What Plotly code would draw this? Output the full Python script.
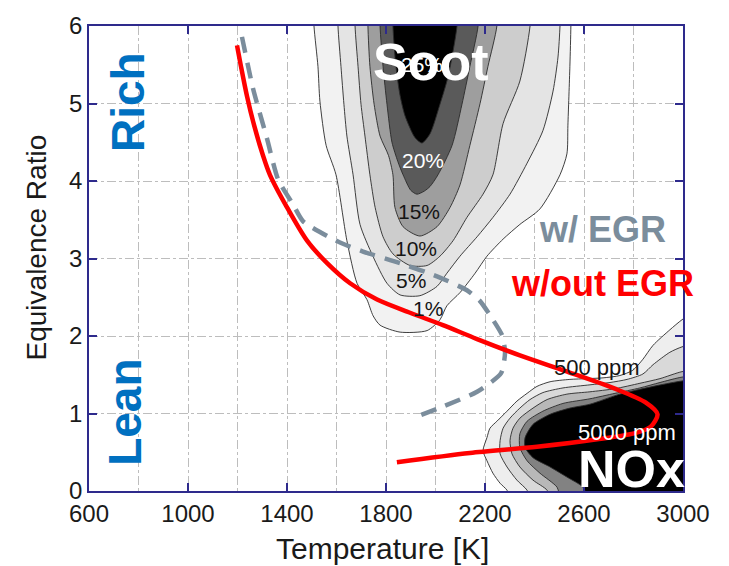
import plotly.graph_objects as go

# ---------------------------------------------------------------------------
# Phi-T map: soot and NOx formation islands with two combustion paths
# Temperatures in K, equivalence ratio dimensionless
# ---------------------------------------------------------------------------

# Soot-yield bands (outer to inner), closed above the plotted range
SOOT_01_T = [1505, 1509, 1525, 1533, 1558, 1598, 1642, 1683, 1723, 1748, 1776, 1857,
             1966, 2018, 2046, 2099, 2160, 2208, 2273, 2341, 2422, 2503, 2531, 2535,
             2543, 2547, 2548]
SOOT_01_PHI = [6.4, 6.0, 5.48, 5.03, 4.46, 4.08, 3.23, 2.68, 2.47, 2.26, 2.14, 2.05,
               2.07, 2.21, 2.39, 2.56, 2.81, 3.03, 3.25, 3.44, 3.64, 4.08, 4.35, 4.72,
               5.48, 6.0, 6.4]

SOOT_05_T = [1606, 1606, 1618, 1630, 1642, 1667, 1695, 1747, 1804, 1857, 1937, 2006,
             2046, 2099, 2168, 2232, 2301, 2370, 2434, 2475, 2495, 2503, 2505]
SOOT_05_PHI = [6.4, 6.0, 5.48, 4.99, 4.58, 4.08, 3.44, 3.03, 2.68, 2.53, 2.52, 2.64,
               2.81, 3.03, 3.28, 3.53, 3.83, 4.23, 4.65, 5.16, 5.6, 6.0, 6.4]

SOOT_10_T = [1675, 1675, 1687, 1699, 1715, 1735, 1756, 1788, 1828, 1897, 1966, 2018,
             2071, 2127, 2192, 2232, 2273, 2341, 2382, 2385]
SOOT_10_PHI = [6.4, 6.0, 5.48, 4.99, 4.58, 4.08, 3.66, 3.28, 3.06, 2.91, 2.91, 3.03,
               3.23, 3.53, 3.83, 4.08, 4.74, 5.29, 6.0, 6.4]

SOOT_15_T = [1727, 1727, 1735, 1752, 1776, 1810, 1828, 1836, 1869, 1937, 2006, 2059,
             2099, 2139, 2180, 2212, 2248, 2250]
SOOT_15_PHI = [6.4, 6.0, 5.48, 4.99, 4.58, 4.33, 4.08, 3.66, 3.41, 3.29, 3.41, 3.66,
               3.95, 4.46, 5.0, 5.48, 6.0, 6.4]

SOOT_20_T = [1776, 1776, 1788, 1804, 1824, 1848, 1869, 1900, 1925, 1955, 1978, 2010,
             2067, 2107, 2139, 2172, 2175]
SOOT_20_PHI = [6.4, 6.0, 5.48, 4.99, 4.50, 4.25, 4.08, 3.88, 3.83, 3.87, 3.93, 4.08,
               4.46, 4.99, 5.48, 6.0, 6.4]

SOOT_25_T = [1828, 1828, 1840, 1857, 1877, 1917, 1945, 1978, 2018, 2051, 2087, 2090]
SOOT_25_PHI = [6.4, 6.0, 5.48, 5.10, 4.84, 4.56, 4.49, 4.61, 4.99, 5.35, 6.0, 6.4]

SOOT_FILLS = ["#f2f2f2", "#e4e4e4", "#cdcdcd", "#9e9e9e", "#5a5a5a", "#000000"]

# NOx concentration bands (outer 500 ppm to inner 5000 ppm), closed outside the range
NOX_1_T = [3070, 2996, 2947, 2879, 2838, 2798, 2745, 2677, 2612, 2543, 2463, 2410,
           2370, 2329, 2289, 2248, 2220, 2208, 2192, 2208, 2232, 2261, 2289, 2301, 3070]
NOX_1_PHI = [2.36, 2.21, 2.08, 1.88, 1.70, 1.56, 1.49, 1.46, 1.45, 1.44, 1.41, 1.35,
             1.26, 1.16, 1.03, 0.90, 0.81, 0.69, 0.52, 0.39, 0.23, 0.10, 0.01, -0.11, -0.11]

NOX_2_T = [3070, 2996, 2947, 2879, 2838, 2774, 2705, 2624, 2515, 2434, 2382, 2341,
           2301, 2273, 2261, 2261, 2289, 2329, 2370, 2382, 3070]
NOX_2_PHI = [1.92, 1.86, 1.79, 1.63, 1.51, 1.44, 1.40, 1.37, 1.33, 1.27, 1.18, 1.07,
             0.94, 0.81, 0.65, 0.48, 0.31, 0.14, 0.01, -0.11, -0.11]

NOX_3_T = [3070, 2996, 2907, 2826, 2725, 2624, 2531, 2451, 2394, 2341, 2313, 2301,
           2309, 2341, 2394, 2451, 2463, 3070]
NOX_3_PHI = [1.56, 1.54, 1.45, 1.39, 1.32, 1.28, 1.25, 1.18, 1.07, 0.94, 0.81, 0.65,
             0.48, 0.31, 0.14, 0.01, -0.11, -0.11]

NOX_4_T = [3070, 2996, 2907, 2826, 2725, 2624, 2515, 2434, 2370, 2341, 2341, 2370,
           2422, 2491, 2511, 3070]
NOX_4_PHI = [1.49, 1.47, 1.40, 1.33, 1.26, 1.19, 1.13, 1.03, 0.90, 0.74, 0.56, 0.39,
             0.23, 0.05, -0.11, -0.11]

NOX_5_T = [3070, 2996, 2895, 2745, 2624, 2543, 2463, 2394, 2362, 2362, 2394, 2463,
           2531, 2596, 2624, 3070]
NOX_5_PHI = [1.44, 1.42, 1.36, 1.25, 1.12, 1.07, 0.99, 0.86, 0.69, 0.56, 0.43, 0.31,
             0.18, 0.05, -0.11, -0.11]

NOX_FILLS = ["#eeeeee", "#d9d9d9", "#b8b8b8", "#828282", "#000000"]

# Combustion paths
NO_EGR_T = [1198, 1214, 1238, 1267, 1303, 1331, 1400, 1481, 1562, 1655, 1764, 1897,
            2030, 2168, 2341, 2523, 2725, 2850, 2897, 2870, 2810, 2660, 2410, 2139, 1844]
NO_EGR_PHI = [5.75, 5.48, 5.10, 4.72, 4.33, 4.08, 3.66, 3.23, 2.94, 2.68, 2.47, 2.30,
              2.14, 1.96, 1.75, 1.55, 1.32, 1.14, 0.99, 0.83, 0.75, 0.67, 0.57, 0.49, 0.37]

EGR_T = [1218, 1263, 1319, 1364, 1424, 1465, 1562, 1626, 1707, 1857, 2006, 2127,
         2180, 2232, 2269, 2281, 2265, 2168, 2030, 1909]
EGR_PHI = [5.86, 5.19, 4.55, 4.02, 3.70, 3.48, 3.29, 3.19, 3.09, 2.94, 2.77, 2.59,
           2.45, 2.21, 2.01, 1.79, 1.52, 1.28, 1.09, 0.94]

X_TICKS = [600, 1000, 1400, 1800, 2200, 2600, 3000]
Y_TICKS = [0, 1, 2, 3, 4, 5, 6]

FONT = "Liberation Sans, Arial, sans-serif"
AXIS_BLUE = "#2e2a8c"
EGR_GREY = "#7b8d9c"

fig = go.Figure()


def band(xs, ys, fill, edge):
    fig.add_trace(go.Scatter(
        x=xs, y=ys, mode="lines", fill="toself", fillcolor=fill,
        line=dict(color=edge, width=0.9, shape="spline", smoothing=0.7),
        hoverinfo="skip", showlegend=False,
    ))


soot_bands = [(SOOT_01_T, SOOT_01_PHI), (SOOT_05_T, SOOT_05_PHI),
              (SOOT_10_T, SOOT_10_PHI), (SOOT_15_T, SOOT_15_PHI),
              (SOOT_20_T, SOOT_20_PHI), (SOOT_25_T, SOOT_25_PHI)]
for (xs, ys), fill in zip(soot_bands, SOOT_FILLS):
    band(xs, ys, fill, "#2a2a2a")

nox_bands = [(NOX_1_T, NOX_1_PHI), (NOX_2_T, NOX_2_PHI), (NOX_3_T, NOX_3_PHI),
             (NOX_4_T, NOX_4_PHI), (NOX_5_T, NOX_5_PHI)]
for (xs, ys), fill in zip(nox_bands, NOX_FILLS):
    band(xs, ys, fill, "#2a2a2a")

fig.add_trace(go.Scatter(
    x=EGR_T, y=EGR_PHI, mode="lines",
    line=dict(color=EGR_GREY, width=4.5, dash="16px,10px", shape="spline", smoothing=0.6),
    hoverinfo="skip", showlegend=False,
))
fig.add_trace(go.Scatter(
    x=NO_EGR_T, y=NO_EGR_PHI, mode="lines",
    line=dict(color="#ff0000", width=4.5, shape="spline", smoothing=0.8),
    hoverinfo="skip", showlegend=False,
))


def label(x, y, text, size, color, bold=False, angle=0):
    fig.add_annotation(
        x=x, y=y, xref="x", yref="y", text=text, showarrow=False,
        textangle=angle, xanchor="center", yanchor="middle",
        font=dict(family=FONT, size=size, color=color,
                  weight="bold" if bold else "normal"),
    )


# contour level labels
label(1945, 5.50, "25%", 21, "#ffffff")
label(1950, 4.27, "20%", 21, "#ffffff")
label(1933, 3.61, "15%", 21, "#151515")
label(1921, 3.13, "10%", 21, "#151515")
label(1901, 2.71, "5%", 21, "#151515")
label(1970, 2.36, "1%", 21, "#151515")
label(2653, 1.60, "500 ppm", 22, "#151515")
label(2774, 0.76, "5000 ppm", 22, "#ffffff")

# region names
label(1982, 5.53, "Soot", 52, "#ffffff", bold=True)
label(2790, 0.29, "NOx", 52, "#ffffff", bold=True)
label(758, 5.02, "Rich", 46, "#0070c0", bold=True, angle=-90)
label(745, 1.02, "Lean", 46, "#0070c0", bold=True, angle=-90)
label(2673, 3.38, "w/ EGR", 36, EGR_GREY, bold=True)
label(2673, 2.68, "w/out EGR", 36, "#ff0000", bold=True)

# axis titles
fig.add_annotation(x=0.494, y=-0.123, xref="paper", yref="paper",
                   text="Temperature [K]", showarrow=False,
                   xanchor="center", yanchor="middle",
                   font=dict(family=FONT, size=30, color="#1a1a1a"))
fig.add_annotation(x=-0.089, y=0.524, xref="paper", yref="paper",
                   text="Equivalence Ratio", showarrow=False, textangle=-90,
                   xanchor="center", yanchor="middle",
                   font=dict(family=FONT, size=28, color="#1a1a1a"))

grid = dict(gridcolor="#bdbdbd", griddash="dashdot", gridwidth=1)

fig.update_xaxes(
    range=[600, 3000], tickvals=X_TICKS, ticktext=[str(v) for v in X_TICKS],
    showgrid=True, **grid,
    minor=dict(dtick=200, tick0=600, showgrid=True, ticklen=0, **grid),
    ticks="inside", ticklen=8, tickwidth=1.5, tickcolor=AXIS_BLUE,
    showline=True, linecolor=AXIS_BLUE, linewidth=1.5, mirror="ticks",
    zeroline=False, tickfont=dict(family=FONT, size=24, color="#1a1a1a"),
)
fig.update_yaxes(
    range=[0, 6], tickvals=Y_TICKS, ticktext=[str(v) for v in Y_TICKS],
    showgrid=True, **grid,
    ticks="inside", ticklen=8, tickwidth=1.5, tickcolor=AXIS_BLUE,
    showline=True, linecolor=AXIS_BLUE, linewidth=1.5, mirror="ticks",
    zeroline=False, tickfont=dict(family=FONT, size=24, color="#1a1a1a"),
)

fig.update_layout(
    width=729, height=566,
    margin=dict(l=89, r=46, t=19, b=75),
    paper_bgcolor="#ffffff", plot_bgcolor="#ffffff",
    showlegend=False,
)

fig.write_html("out.html")
